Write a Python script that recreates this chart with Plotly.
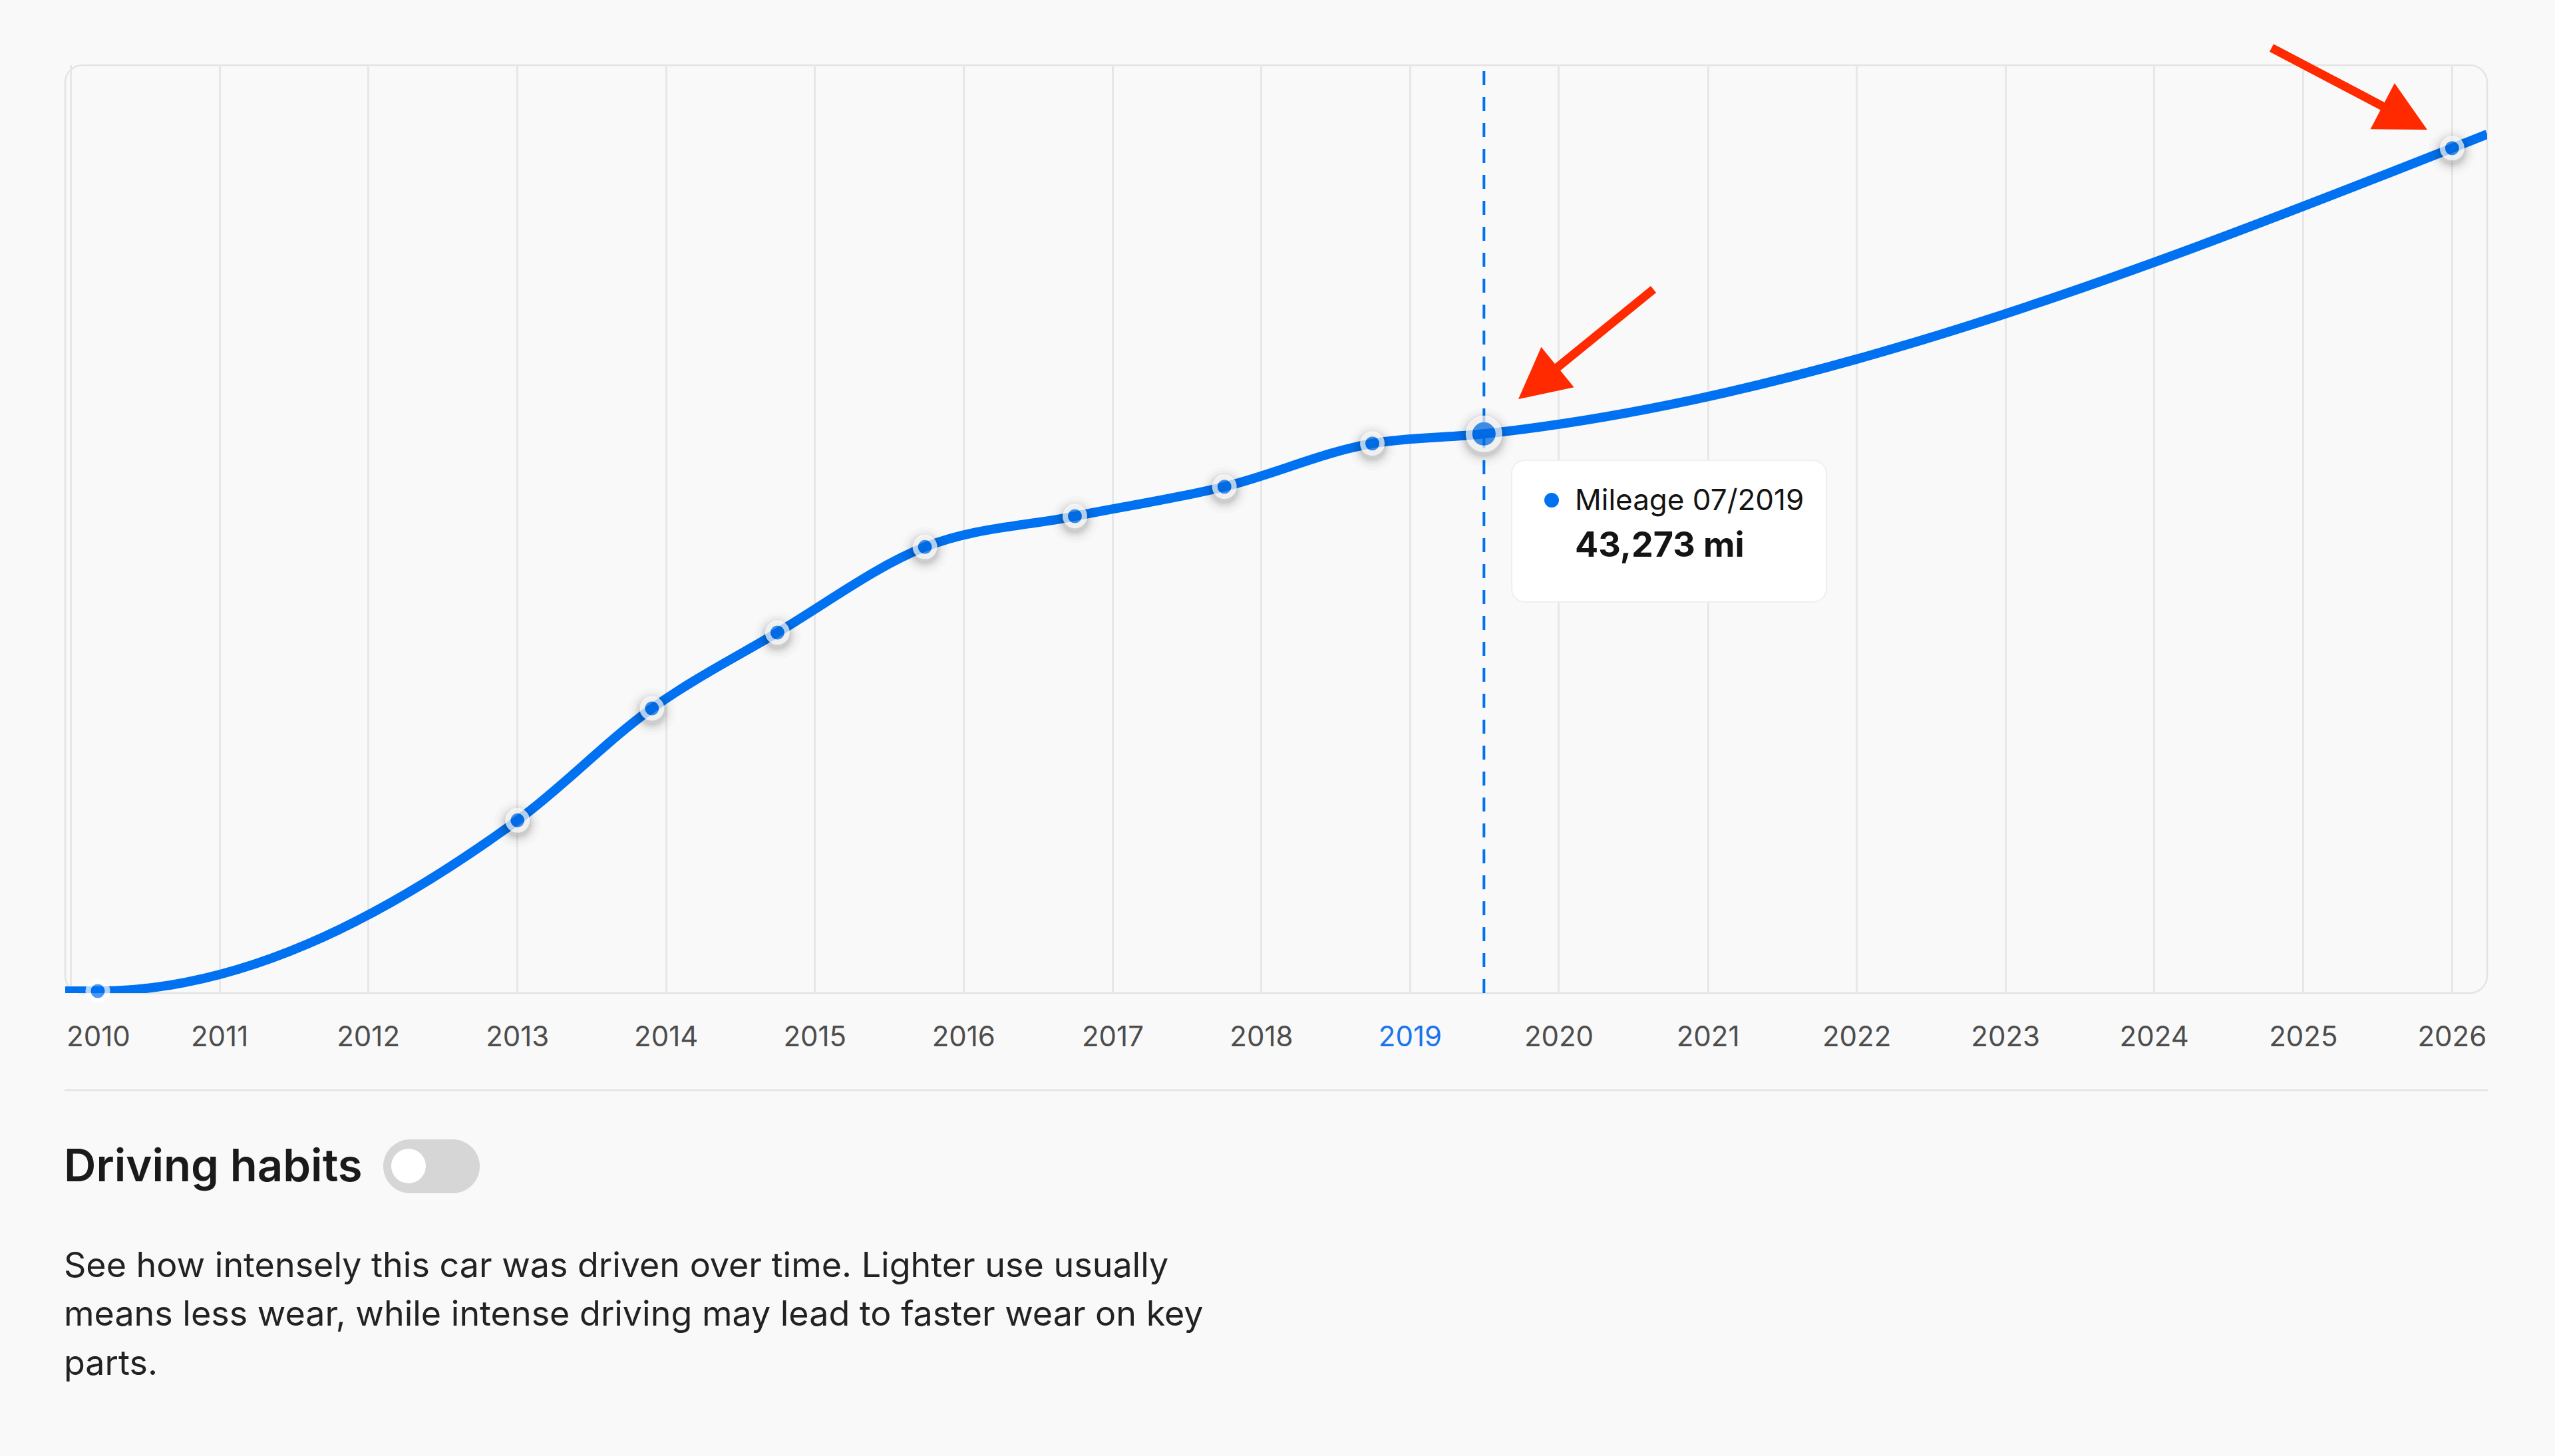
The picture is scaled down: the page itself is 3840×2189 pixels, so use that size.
import pandas as pd
import plotly.graph_objects as go

# ---------------- data ----------------
record_dates = ["2010-03-08", "2013-01-01", "2013-11-27", "2014-10-01", "2015-09-28",
                "2016-09-30", "2017-10-02", "2018-09-30", "2019-07-01", "2026-01-01"]
mileage = [154, 13367, 22029, 27897, 34521, 36904, 39184, 42530, 43273, 65382]
# the curve keeps running to both edges of the chart
edge_dates = ["2009-12-18", "2026-03-28"]
edge_mileage = [154, 66463]
highlight_index = 8
year_ticks = list(range(2010, 2027))
highlight_year = 2019
y_range = [0, 71804]

title_text = "Driving habits"
paragraph_lines = [
    "See how intensely this car was driven over time. Lighter use usually",
    "means less wear, while intense driving may lead to faster wear on key",
    "parts.",
]

# ---------------- styling ----------------
W, H = 3840, 2189
L, R, T, B = 98, 3738, 98, 1493          # plot box in pixels
BG = "#f9f9f9"
BLUE = "#0071f0"
TICK_BLUE = "#1a75ec"
GRID = "#e7e7e7"
FONT = "Inter"


def px(x):
    return (x - L) / (R - L)


def py(y):
    return (B - y) / (B - T)


def P(x, y):
    return f"{px(x):.6f},{py(y):.6f}"


def round_rect(x0, y0, x1, y1, r):
    k = 0.4477 * r
    return (f"M{P(x0 + r, y0)} L{P(x1 - r, y0)} C{P(x1 - k, y0)} {P(x1, y0 + k)} {P(x1, y0 + r)} "
            f"L{P(x1, y1 - r)} C{P(x1, y1 - k)} {P(x1 - k, y1)} {P(x1 - r, y1)} "
            f"L{P(x0 + r, y1)} C{P(x0 + k, y1)} {P(x0, y1 - k)} {P(x0, y1 - r)} "
            f"L{P(x0, y0 + r)} C{P(x0, y0 + k)} {P(x0 + k, y0)} {P(x0 + r, y0)} Z")


# ---------- monotone (x) curve through the series, in data coordinates ----------
line_x = [edge_dates[0]] + record_dates + [edge_dates[1]]
line_y = [edge_mileage[0]] + mileage + [edge_mileage[1]]
xs = [pd.Timestamp(d).value / 1e6 for d in line_x]   # ms
ys = line_y
n = len(xs)
hs = [xs[i + 1] - xs[i] for i in range(n - 1)]
ss = [(ys[i + 1] - ys[i]) / hs[i] for i in range(n - 1)]


def sgn(v):
    return (v > 0) - (v < 0)


tg = [0.0] * n
for i in range(1, n - 1):
    p = (ss[i - 1] * hs[i] + ss[i] * hs[i - 1]) / (hs[i - 1] + hs[i])
    tg[i] = (sgn(ss[i - 1]) + sgn(ss[i])) * min(abs(ss[i - 1]), abs(ss[i]), 0.5 * abs(p))
tg[0] = (3 * ss[0] - tg[1]) / 2
tg[-1] = (3 * ss[-1] - tg[-2]) / 2


def dstr(ms):
    return pd.Timestamp(int(round(ms)), unit="ms").strftime("%Y-%m-%d_%H:%M:%S")


curve = f"M{dstr(xs[0])},{ys[0]:.2f}"
for i in range(n - 1):
    dx = hs[i] / 3
    curve += (f" C{dstr(xs[i] + dx)},{ys[i] + dx * tg[i]:.2f}"
              f" {dstr(xs[i + 1] - dx)},{ys[i + 1] - dx * tg[i + 1]:.2f}"
              f" {dstr(xs[i + 1])},{ys[i + 1]:.2f}")

sizes = [45 if i == highlight_index else 29 for i in range(len(mileage))]
lws = [10 if i == highlight_index else 8 for i in range(len(mileage))]
mi_per_px = (y_range[1] - y_range[0]) / (B - T)

fig = go.Figure()
# soft drop shadow under markers
for extra, alpha in [(34, 0.025), (24, 0.035), (16, 0.05), (10, 0.07), (4, 0.09)]:
    fig.add_trace(go.Scatter(
        x=record_dates, y=[v - 5 * mi_per_px for v in mileage], mode="markers",
        marker=dict(size=[s + lw + extra for s, lw in zip(sizes, lws)],
                    color=f"rgba(0,0,0,{alpha})", line=dict(width=0)),
        hoverinfo="skip", showlegend=False, cliponaxis=False))
fig.add_trace(go.Scatter(
    x=record_dates, y=mileage, mode="markers",
    marker=dict(size=sizes, color=BLUE, line=dict(color="white", width=lws)),
    hoverinfo="skip", showlegend=False, cliponaxis=False))

# tick labels
ticktext = []
for yv in year_ticks:
    if yv == highlight_year:
        ticktext.append(f'<span style="color:{TICK_BLUE}">{yv}</span>')
    elif yv == year_ticks[0]:
        ticktext.append("\u00a0" * 7 + str(yv))
    else:
        ticktext.append(str(yv))

shapes = []
# chart box
shapes.append(dict(type="path", xref="paper", yref="paper", path=round_rect(L, T, R, B, 26),
                   line=dict(color="#e4e4e4", width=2.5), layer="below"))
# hover guide line
hl_date = record_dates[highlight_index]
shapes.append(dict(type="line", xref="x", yref="paper", x0=hl_date, x1=hl_date, y0=0, y1=1,
                   line=dict(color=BLUE, width=4, dash="21px,18px"), layer="between"))
# mileage curve
shapes.append(dict(type="path", xref="x", yref="y", path=curve,
                   line=dict(color=BLUE, width=14), fillcolor="rgba(0,0,0,0)", layer="between"))
# tooltip
shapes.append(dict(type="path", xref="paper", yref="paper", path=round_rect(2272, 692, 2745, 905, 20),
                   fillcolor="white", line=dict(color="#efefef", width=2), layer="above"))
shapes.append(dict(type="circle", xref="paper", yref="paper",
                   x0=px(2321), x1=px(2343), y0=py(741), y1=py(763),
                   fillcolor=BLUE, line=dict(width=0), layer="above"))
# separator
shapes.append(dict(type="line", xref="paper", yref="paper", x0=px(97), x1=px(3739), y0=py(1639), y1=py(1639),
                   line=dict(color="#e4e4e4", width=2.5)))
# toggle
shapes.append(dict(type="path", xref="paper", yref="paper", path=round_rect(576, 1713, 721, 1794, 40.5),
                   fillcolor="#d6d6d6", line=dict(width=0)))
shapes.append(dict(type="circle", xref="paper", yref="paper",
                   x0=px(588), x1=px(640), y0=py(1727), y1=py(1779),
                   fillcolor="white", line=dict(width=0)))

# red arrows (tail -> tip in pixels)
RED = "#ff2a00"
for (tx, ty), (hx, hy) in [((2485, 435), (2282, 600)), ((3414, 72), (3648, 195))]:
    dx, dy = hx - tx, hy - ty
    nn = (dx * dx + dy * dy) ** 0.5
    ux, uy = dx / nn, dy / nn
    hl, hw = 76, 39
    bx, by = hx - ux * hl, hy - uy * hl
    shapes.append(dict(type="line", xref="paper", yref="paper",
                       x0=px(tx), y0=py(ty), x1=px(bx + ux * 4), y1=py(by + uy * 4),
                       line=dict(color=RED, width=13), layer="above"))
    c1 = (bx - uy * hw, by + ux * hw)
    c2 = (bx + uy * hw, by - ux * hw)
    shapes.append(dict(type="path", xref="paper", yref="paper",
                       path=f"M{P(hx, hy)} L{P(*c1)} L{P(*c2)} Z",
                       fillcolor=RED, line=dict(width=0), layer="above"))

annotations = []
d = record_dates[highlight_index]
annotations.append(dict(xref="paper", yref="paper", x=px(2366), y=py(751), xanchor="left", yanchor="middle",
                        text=f"Mileage {d[5:7]}/{d[:4]}", showarrow=False, borderpad=0,
                        font=dict(family=FONT, size=44, color="#141414")))
annotations.append(dict(xref="paper", yref="paper", x=px(2366), y=py(818), xanchor="left", yanchor="middle",
                        text=f"{mileage[highlight_index]:,} mi", showarrow=False, borderpad=0,
                        font=dict(family=FONT, size=52, color="#141414", weight=700)))
annotations.append(dict(xref="paper", yref="paper", x=px(95), y=py(1751), xanchor="left", yanchor="middle",
                        text=title_text, showarrow=False, borderpad=0,
                        font=dict(family=FONT, size=67, color="#1a1a1a", weight=600)))
for i, line in enumerate(paragraph_lines):
    annotations.append(dict(xref="paper", yref="paper", x=px(95), y=py(1901 + 73.5 * i),
                            xanchor="left", yanchor="middle", text=line, showarrow=False, borderpad=0,
                            font=dict(family=FONT, size=52, color="#222222")))

fig.update_layout(
    width=W, height=H,
    margin=dict(l=L, r=W - R, t=T, b=H - B, pad=0),
    paper_bgcolor=BG, plot_bgcolor=BG,
    showlegend=False,
    shapes=shapes, annotations=annotations,
    xaxis=dict(type="date", range=edge_dates,
               tickvals=[f"{yv}-01-01" for yv in year_ticks], ticktext=ticktext,
               showgrid=True, gridcolor=GRID, gridwidth=2.5,
               showline=False, zeroline=False, ticks="",
               ticklabelstandoff=37,
               tickfont=dict(family=FONT, size=42, color="#4d4d4d")),
    yaxis=dict(range=y_range, visible=False, showgrid=False, zeroline=False),
)

fig.write_html("out.html")
